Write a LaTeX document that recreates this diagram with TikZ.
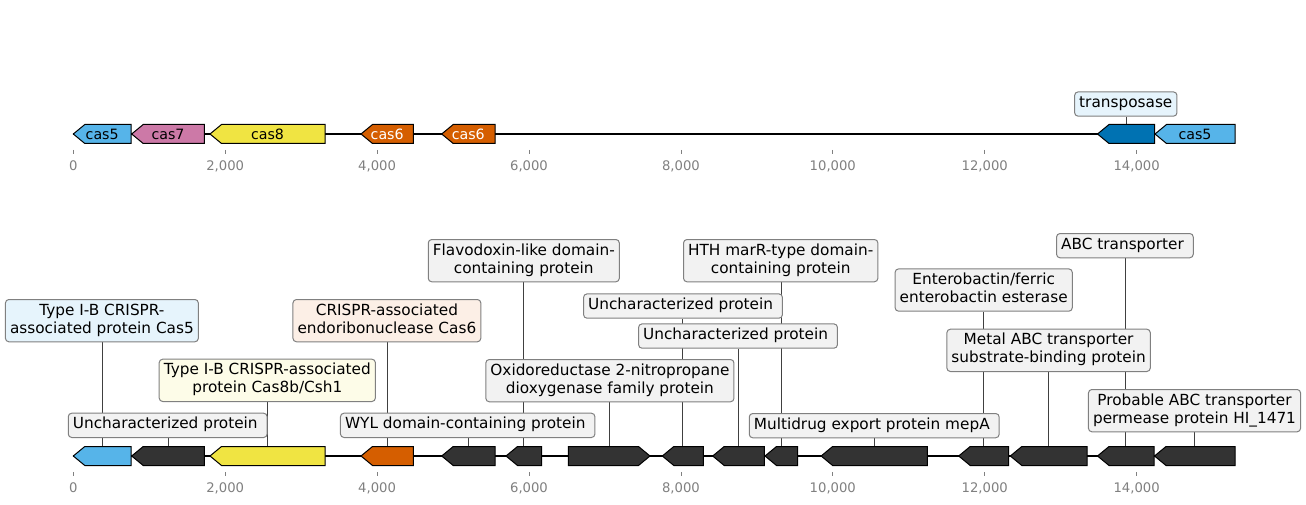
\documentclass[tikz,border=0pt]{standalone}
\usepackage{fontspec}
\setmainfont{DejaVu Sans}
\definecolor{cfive}{HTML}{56B4E9}
\definecolor{cseven}{HTML}{CC79A7}
\definecolor{ceight}{HTML}{F0E442}
\definecolor{csix}{HTML}{D55E00}
\definecolor{ctp}{HTML}{0072B2}
\definecolor{cdk}{HTML}{333333}
\definecolor{bfive}{HTML}{E6F4FC}
\definecolor{bsix}{HTML}{FCEFE6}
\definecolor{beight}{HTML}{FDFCE8}
\definecolor{bgray}{HTML}{F2F2F2}
\definecolor{tickgray}{HTML}{808080}
\definecolor{boxedge}{HTML}{808080}
\definecolor{conncol}{HTML}{404040}
\pgfdeclarelayer{paperlayer}
\pgfdeclarelayer{connlayer}
\pgfsetlayers{paperlayer,connlayer,main}
\tikzset{
  genestyle/.style={draw=black, line width=1pt, line join=miter},
  trackline/.style={draw=black, line width=1.6pt},
  conn/.style={draw=conncol, line width=0.8pt},
  lbox/.style={draw=boxedge, line width=1pt, rounded corners=3.5pt, fill=bgray,
    inner xsep=4.6pt, inner ysep=3.15pt, align=center, anchor=south,
    font=\fontsize{15.3}{18}\selectfont},
  glabel/.style={font=\fontsize{14.2}{16}\selectfont, inner sep=0pt},
  ticklab/.style={font=\fontsize{13.2}{15}\selectfont, text=tickgray, inner sep=0pt},
  tickmark/.style={draw=tickgray, line width=0.8pt},
}
% left-pointing gene: x1, x2, y, fill, coordinate name
\newcommand\geneL[5]{%
  \draw[genestyle, fill=#4] (#1,#3) -- (#1+11.5,#3-9.5) -- (#2,#3-9.5) -- (#2,#3+9.5) -- (#1+11.5,#3+9.5) -- cycle;
  \coordinate (#5) at ({(#1+#2)/2},#3-9.5);
}
% right-pointing gene
\newcommand\geneR[5]{%
  \draw[genestyle, fill=#4] (#2,#3) -- (#2-11.5,#3-9.5) -- (#1,#3-9.5) -- (#1,#3+9.5) -- (#2-11.5,#3+9.5) -- cycle;
  \coordinate (#5) at ({(#1+#2)/2},#3-9.5);
}
\newcommand\lstrut{\strut}
\begin{document}
\begin{tikzpicture}[x=1pt, y=-1pt]
\begin{pgfonlayer}{paperlayer}
  \fill[white] (0,0) rectangle (1306,505);
\end{pgfonlayer}
\useasboundingbox (0,0) rectangle (1306,505);

% ---------------- top track ----------------
\coordinate (tstart) at (73.3,134);
\coordinate (tend) at (1235,134);
\draw[trackline] (tstart) -- (tend);

\node[lbox, fill=bfive] (Ttp) at (1125.8,116.7) {\lstrut transposase};
\geneL{73.3}{131}{134}{cfive}{tg1}
\geneL{131.7}{204.3}{134}{cseven}{tg2}
\geneL{210}{325}{134}{ceight}{tg3}
\geneL{361}{413.3}{134}{csix}{tg4}
\geneL{441.7}{495}{134}{csix}{tg5}
\geneL{1097.5}{1154.5}{134}{ctp}{tg6}
\geneL{1155}{1235}{134}{cfive}{tg7}
\begin{pgfonlayer}{connlayer}
  \draw[conn] (tg6) -- (tg6 |- Ttp.south);
\end{pgfonlayer}
\node[glabel] (l1) at (102.2,134) {cas5};
\node[glabel] (l2) at (168,134) {cas7};
\node[glabel] (l3) at (267.5,134) {cas8};
\node[glabel, text=white] (l4) at (387.2,134) {cas6};
\node[glabel, text=white] (l5) at (468.3,134) {cas6};
\node[glabel] (l7) at (1195,134) {cas5};

% top axis
\foreach \i/\lab in {0/0,1/{2,000},2/{4,000},3/{6,000},4/{8,000},5/{10,000},6/{12,000},7/{14,000}}{
  \coordinate (tta\i) at (73.3+151.9*\i,150);
  \coordinate (ttb\i) at (73.3+151.9*\i,154);
  \draw[tickmark] (tta\i) -- (ttb\i);
  \node[ticklab] (ttl\i) at (73.3+151.9*\i,166) {\lab};
}

% ---------------- bottom track ----------------
\coordinate (bstart) at (73.3,456);
\coordinate (bend) at (1235,456);
\draw[trackline] (bstart) -- (bend);

% label boxes
\node[lbox, fill=bfive] (B1) at (101.9,342.3) {\lstrut Type I-B CRISPR-\\\lstrut associated protein Cas5};
\node[lbox] (B2) at (167.7,438) {\lstrut Uncharacterized protein\ };
\node[lbox, fill=beight] (B3) at (267.3,402) {\lstrut Type I-B CRISPR-associated\\\lstrut protein Cas8b/Csh1};
\node[lbox, fill=bsix] (B4) at (386.9,342.3) {\lstrut CRISPR-associated\\\lstrut endoribonuclease Cas6};
\node[lbox] (B5) at (467.7,438) {\lstrut WYL domain-containing protein\ };
\node[lbox] (B6) at (523.8,282.3) {\lstrut Flavodoxin-like domain-\\\lstrut containing protein};
\node[lbox] (B7) at (609.9,402.3) {\lstrut Oxidoreductase 2-nitropropane\\\lstrut dioxygenase family protein};
\node[lbox] (B8) at (683,318.7) {\lstrut Uncharacterized protein\ };
\node[lbox] (B9) at (738,348.7) {\lstrut Uncharacterized protein\ };
\node[lbox] (B10) at (780.7,282.3) {\lstrut HTH marR-type domain-\\\lstrut containing protein};
\node[lbox] (B11) at (874.2,438.3) {\lstrut Multidrug export protein mepA\ };
\node[lbox] (B12) at (983.7,311.7) {\lstrut Enterobactin/ferric\\\lstrut enterobactin esterase};
\node[lbox] (B13) at (1048.6,372) {\lstrut Metal ABC transporter\\\lstrut substrate-binding protein};
\node[lbox] (B14) at (1124.9,258.3) {\lstrut ABC transporter\ };
\node[lbox] (B15) at (1194.5,432.3) {\lstrut Probable ABC transporter\\\lstrut permease protein HI\_1471};

% genes
\geneL{73.3}{131}{456}{cfive}{g1}
\geneL{131.7}{204.3}{456}{cdk}{g2}
\geneL{210}{325}{456}{ceight}{g3}
\geneL{361}{413.3}{456}{csix}{g4}
\geneL{441.7}{495}{456}{cdk}{g5}
\geneL{506}{541.7}{456}{cdk}{g6}
\geneR{568.3}{650}{456}{cdk}{g7}
\geneL{662.3}{703.3}{456}{cdk}{g8}
\geneL{712.7}{764.3}{456}{cdk}{g9}
\geneL{765}{797.7}{456}{cdk}{g10}
\geneL{821.1}{927.4}{456}{cdk}{g11}
\geneL{958.7}{1008.5}{456}{cdk}{g12}
\geneL{1010.3}{1087}{456}{cdk}{g13}
\geneL{1097.5}{1154}{456}{cdk}{g14}
\geneL{1154.5}{1235}{456}{cdk}{g15}

% connectors, behind the boxes
\begin{pgfonlayer}{connlayer}
\foreach \k in {1,...,15}{
  \draw[conn] (g\k) -- (g\k |- B\k.south);
}
\end{pgfonlayer}

% bottom axis
\foreach \i/\lab in {0/0,1/{2,000},2/{4,000},3/{6,000},4/{8,000},5/{10,000},6/{12,000},7/{14,000}}{
  \coordinate (bta\i) at (73.3+151.9*\i,472);
  \coordinate (btb\i) at (73.3+151.9*\i,476);
  \draw[tickmark] (bta\i) -- (btb\i);
  \node[ticklab] (btl\i) at (73.3+151.9*\i,488) {\lab};
}
\end{tikzpicture}
\end{document}
